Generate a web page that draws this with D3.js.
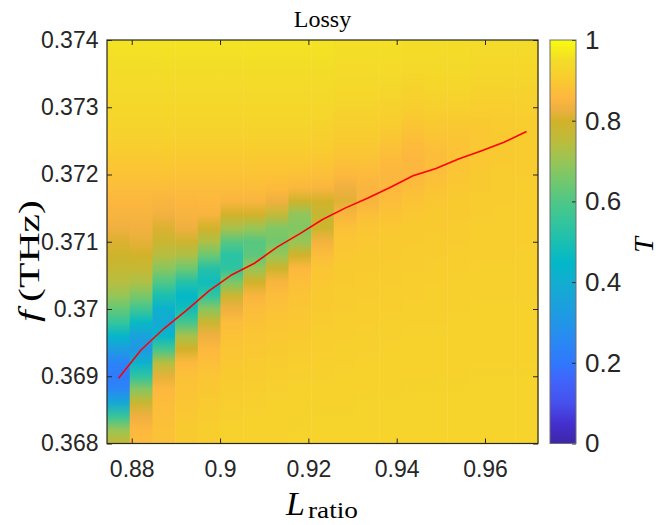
<!DOCTYPE html>
<html><head><meta charset="utf-8">
<script src="https://cdn.jsdelivr.net/npm/d3@7"></script>
<style>body{margin:0;background:#fff}</style>
</head><body><div id="chart"></div>
<script>
// ---------------- data ----------------
const Lratio = [0.8770, 0.8821, 0.8873, 0.8924, 0.8975, 0.9027, 0.9078, 0.9129, 0.9181, 0.9232,
                0.9283, 0.9335, 0.9386, 0.9437, 0.9489, 0.9540, 0.9591, 0.9643, 0.9694];
const fGrid = [0.3680, 0.3682, 0.3684, 0.3686, 0.3688, 0.3690, 0.3692, 0.3694, 0.3696, 0.3698,
               0.3700, 0.3702, 0.3704, 0.3706, 0.3708, 0.3710, 0.3712, 0.3714, 0.3716, 0.3718,
               0.3720, 0.3722, 0.3724, 0.3726, 0.3728, 0.3730, 0.3732, 0.3734, 0.3736, 0.3738, 0.3740];
// transmission T per column (bottom f=0.368 -> top f=0.374)
const T01 = [0.77,0.70,0.56,0.38,0.25,0.21,0.24,0.33,0.44,0.55,0.63,0.70,0.74,0.77,0.79,0.81,0.83,0.845,0.855,0.87,0.885,0.895,0.91,0.92,0.93,0.935,0.94,0.945,0.95,0.955,0.96];
const T02 = [0.87,0.86,0.83,0.78,0.68,0.54,0.42,0.31,0.35,0.46,0.57,0.66,0.73,0.77,0.80,0.82,0.835,0.845,0.855,0.87,0.885,0.895,0.91,0.92,0.93,0.935,0.94,0.945,0.95,0.955,0.96];
const T03 = [0.88,0.88,0.875,0.87,0.86,0.82,0.74,0.58,0.44,0.38,0.42,0.50,0.60,0.68,0.74,0.78,0.81,0.835,0.85,0.87,0.885,0.895,0.91,0.92,0.93,0.935,0.94,0.945,0.95,0.955,0.96];
const T04 = [0.90,0.90,0.895,0.89,0.885,0.88,0.86,0.80,0.72,0.58,0.48,0.45,0.52,0.64,0.73,0.79,0.83,0.845,0.855,0.87,0.885,0.895,0.91,0.92,0.93,0.935,0.94,0.945,0.95,0.955,0.96];
const T05 = [0.91,0.91,0.905,0.90,0.895,0.89,0.875,0.86,0.83,0.78,0.68,0.54,0.48,0.52,0.64,0.73,0.80,0.845,0.86,0.87,0.885,0.895,0.91,0.92,0.93,0.935,0.94,0.945,0.95,0.955,0.96];
const T06 = [0.92,0.92,0.915,0.91,0.905,0.90,0.895,0.89,0.88,0.87,0.83,0.78,0.66,0.54,0.53,0.61,0.72,0.80,0.85,0.87,0.885,0.895,0.91,0.92,0.93,0.935,0.94,0.945,0.95,0.955,0.96];
const T07 = [0.92,0.92,0.92,0.915,0.91,0.905,0.90,0.895,0.89,0.88,0.87,0.85,0.80,0.70,0.62,0.61,0.70,0.80,0.85,0.87,0.885,0.895,0.91,0.92,0.93,0.935,0.94,0.945,0.95,0.955,0.96];
const T08 = [0.92,0.92,0.92,0.92,0.915,0.91,0.905,0.90,0.895,0.89,0.88,0.87,0.85,0.79,0.70,0.65,0.67,0.76,0.83,0.865,0.885,0.895,0.91,0.92,0.93,0.935,0.94,0.945,0.95,0.955,0.96];
const T09 = [0.925,0.925,0.92,0.92,0.92,0.915,0.91,0.905,0.90,0.895,0.89,0.885,0.875,0.86,0.80,0.70,0.67,0.69,0.79,0.855,0.88,0.895,0.91,0.92,0.93,0.935,0.94,0.945,0.95,0.955,0.96];
const T10 = [0.925,0.925,0.925,0.92,0.92,0.915,0.915,0.91,0.91,0.905,0.90,0.90,0.895,0.89,0.87,0.84,0.79,0.77,0.80,0.85,0.875,0.89,0.905,0.915,0.925,0.935,0.94,0.945,0.95,0.955,0.96];
const T11 = [0.925,0.925,0.925,0.92,0.92,0.92,0.915,0.915,0.91,0.91,0.905,0.905,0.90,0.90,0.895,0.89,0.88,0.85,0.815,0.83,0.86,0.88,0.895,0.905,0.915,0.925,0.935,0.94,0.945,0.95,0.955];
const T12 = [0.925,0.925,0.925,0.925,0.92,0.92,0.92,0.915,0.915,0.91,0.91,0.905,0.905,0.90,0.90,0.895,0.89,0.875,0.845,0.85,0.865,0.88,0.895,0.905,0.915,0.925,0.935,0.94,0.945,0.95,0.955];
const T13 = [0.925,0.925,0.925,0.925,0.92,0.92,0.92,0.92,0.915,0.915,0.91,0.91,0.905,0.905,0.90,0.90,0.895,0.885,0.87,0.86,0.855,0.865,0.88,0.895,0.91,0.92,0.93,0.94,0.945,0.95,0.955];
const T14 = [0.925,0.925,0.925,0.925,0.925,0.92,0.92,0.92,0.92,0.915,0.915,0.91,0.91,0.905,0.905,0.90,0.90,0.895,0.885,0.87,0.855,0.855,0.865,0.88,0.895,0.91,0.92,0.93,0.94,0.945,0.95];
const T15 = [0.925,0.925,0.925,0.925,0.925,0.92,0.92,0.92,0.92,0.915,0.915,0.915,0.91,0.91,0.905,0.905,0.90,0.90,0.895,0.885,0.875,0.87,0.875,0.89,0.90,0.915,0.925,0.935,0.94,0.945,0.95];
const T16 = [0.925,0.925,0.925,0.925,0.925,0.92,0.92,0.92,0.92,0.92,0.915,0.915,0.915,0.91,0.91,0.905,0.905,0.90,0.90,0.895,0.89,0.885,0.885,0.89,0.90,0.915,0.925,0.935,0.94,0.945,0.95];
const T17 = [0.925,0.925,0.925,0.925,0.925,0.925,0.92,0.92,0.92,0.92,0.92,0.915,0.915,0.915,0.91,0.91,0.91,0.905,0.905,0.90,0.90,0.895,0.895,0.895,0.90,0.91,0.92,0.93,0.935,0.94,0.945];
const T18 = [0.925,0.925,0.925,0.925,0.925,0.925,0.92,0.92,0.92,0.92,0.92,0.915,0.915,0.915,0.91,0.91,0.91,0.91,0.905,0.905,0.905,0.90,0.90,0.90,0.905,0.91,0.92,0.93,0.935,0.94,0.945];
const T19 = [0.925,0.925,0.925,0.925,0.925,0.925,0.92,0.92,0.92,0.92,0.92,0.915,0.915,0.915,0.915,0.91,0.91,0.91,0.91,0.91,0.905,0.905,0.905,0.905,0.91,0.915,0.92,0.93,0.935,0.94,0.945];
const transmission = [T01,T02,T03,T04,T05,T06,T07,T08,T09,T10,T11,T12,T13,T14,T15,T16,T17,T18,T19];
// resonance frequency (red line), THz, one per column
const resonanceF = [0.36897, 0.36939, 0.36971, 0.36998, 0.37027, 0.37051, 0.37068, 0.37092, 0.37112, 0.37133,
                    0.37150, 0.37165, 0.37181, 0.37198, 0.37209, 0.37223, 0.37235, 0.37248, 0.37264];
// axes
const xDomain = [0.8744, 0.9720];
const yDomain = [0.368, 0.374];
const xTicks = [0.88, 0.90, 0.92, 0.94, 0.96];
const xTickLabels = ["0.88", "0.9", "0.92", "0.94", "0.96"];
const yTicks = [0.368, 0.369, 0.370, 0.371, 0.372, 0.373, 0.374];
const yTickLabels = ["0.368", "0.369", "0.37", "0.371", "0.372", "0.373", "0.374"];
const cTicks = [0, 0.2, 0.4, 0.6, 0.8, 1];
const cTickLabels = ["0", "0.2", "0.4", "0.6", "0.8", "1"];
// parula-like colormap
const parulaStops = [0.00,0.05,0.10,0.15,0.20,0.25,0.30,0.35,0.40,0.45,0.50,0.55,0.60,0.65,0.70,0.75,0.80,0.83,0.86,0.90,0.95,1.00];
const parulaColors = ["#3e26a8","#4430cf","#4650ed","#4162fa","#3078fd","#2a87f5","#2196e8","#1aa2db","#12add0","#03b8c8",
                      "#1bbfb0","#34c59c","#4fc786","#72c86d","#98c556","#bdbc3b","#d2b22a","#f0b040","#fdb83e","#f9ca30","#f3dd28","#f9fb0e"];

// ---------------- layout ----------------
const W = 664, H = 525;
const P = {l: 107, r: 538, t: 40, b: 443.5};
const CB = {l: 550, r: 576};
const ink = "#262626";

const svg = d3.select("#chart").append("svg").attr("width", W).attr("height", H)
  .style("font-family", "'Liberation Sans', Arial, sans-serif");
svg.append("rect").attr("width", W).attr("height", H).attr("fill", "#fff");

const x = d3.scaleLinear().domain(xDomain).range([P.l, P.r]);
const y = d3.scaleLinear().domain(yDomain).range([P.b, P.t]);
const cmap = d3.scaleLinear().domain(parulaStops).range(parulaColors).interpolate(d3.interpolateRgb).clamp(true);

const defs = svg.append("defs");
// column edges
const edges = [xDomain[0]];
for (let i = 0; i < Lratio.length - 1; i++) edges.push((Lratio[i] + Lratio[i + 1]) / 2);
edges.push(xDomain[1]);

const yTop = y(yDomain[1]), yBot = y(yDomain[0]);
transmission.forEach((col, i) => {
  const g = defs.append("linearGradient").attr("id", "colgrad" + i)
    .attr("x1", 0).attr("x2", 0).attr("y1", 0).attr("y2", 1);
  for (let k = col.length - 1; k >= 0; k--) {
    g.append("stop").attr("offset", ((y(fGrid[k]) - yTop) / (yBot - yTop)).toFixed(5))
      .attr("stop-color", cmap(col[k]));
  }
});

const plot = svg.append("g");
plot.selectAll("rect.cell").data(transmission).join("rect").attr("class", "cell")
  .attr("x", (d, i) => x(edges[i]))
  .attr("width", (d, i) => x(edges[i + 1]) - x(edges[i]) + 0.5)
  .attr("y", yTop).attr("height", yBot - yTop)
  .attr("fill", (d, i) => `url(#colgrad${i})`);

// red resonance line
const line = d3.line().x((d, i) => x(Lratio[i])).y(d => y(d));
plot.append("path").datum(resonanceF).attr("d", line)
  .attr("fill", "none").attr("stroke", "#ff0000").attr("stroke-width", 1.6);

// axes
function styleAxis(g) {
  g.select(".domain").remove();
  g.selectAll(".tick line").attr("stroke", ink).attr("stroke-width", 1);
  g.selectAll(".tick text").attr("fill", ink);
}
svg.append("g").attr("transform", `translate(0,${P.b})`)
  .call(d3.axisBottom(x).tickValues(xTicks).tickSize(-5).tickPadding(17)
    .tickFormat((d, i) => xTickLabels[i]))
  .call(styleAxis).call(g => g.selectAll("text").attr("font-size", 23));
svg.append("g").attr("transform", `translate(0,${P.t})`)
  .call(d3.axisTop(x).tickValues(xTicks).tickSize(-5).tickFormat(""))
  .call(styleAxis);
svg.append("g").attr("transform", `translate(${P.l},0)`)
  .call(d3.axisLeft(y).tickValues(yTicks).tickSize(-5).tickPadding(8.5)
    .tickFormat((d, i) => yTickLabels[i]))
  .call(styleAxis).call(g => g.selectAll("text").attr("font-size", 23));
svg.append("g").attr("transform", `translate(${P.r},0)`)
  .call(d3.axisRight(y).tickValues(yTicks).tickSize(-5).tickFormat(""))
  .call(styleAxis);
svg.append("rect").attr("x", P.l).attr("y", P.t).attr("width", P.r - P.l).attr("height", P.b - P.t)
  .attr("fill", "none").attr("stroke", ink).attr("stroke-width", 1.2);

// colorbar
const c = d3.scaleLinear().domain([0, 1]).range([P.b, P.t]);
const cg = defs.append("linearGradient").attr("id", "cbar")
  .attr("x1", 0).attr("x2", 0).attr("y1", 1).attr("y2", 0);
parulaStops.forEach((s, k) => cg.append("stop").attr("offset", s).attr("stop-color", parulaColors[k]));
svg.append("rect").attr("x", CB.l).attr("y", c(1)).attr("width", CB.r - CB.l).attr("height", c(0) - c(1))
  .attr("fill", "url(#cbar)");
svg.append("g").attr("transform", `translate(${CB.r},0)`)
  .call(d3.axisRight(c).tickValues(cTicks).tickSize(-4).tickPadding(9)
    .tickFormat((d, i) => cTickLabels[i]))
  .call(styleAxis).call(g => g.selectAll("text").attr("font-size", 26));
svg.append("rect").attr("x", CB.l).attr("y", c(1)).attr("width", CB.r - CB.l).attr("height", c(0) - c(1))
  .attr("fill", "none").attr("stroke", "#6e6e6e").attr("stroke-width", 1);

// texts
const serif = "'Liberation Serif', 'Times New Roman', serif";
svg.append("text").attr("x", (P.l + P.r) / 2).attr("y", 27).attr("text-anchor", "middle")
  .attr("font-family", serif).attr("font-size", 24).attr("fill", "#000").text("Lossy");

svg.append("text").attr("x", 286).attr("y", 515)
  .attr("font-family", serif).attr("font-style", "italic").attr("font-size", 34).attr("fill", "#000").text("L");
svg.append("text").attr("x", 308).attr("y", 518)
  .attr("font-family", serif).attr("font-size", 24).attr("fill", "#000")
  .attr("textLength", 50).attr("lengthAdjust", "spacingAndGlyphs").text("ratio");

const yl = svg.append("text").attr("transform", "translate(39,261) rotate(-90)")
  .attr("text-anchor", "middle").attr("font-family", serif).attr("fill", "#000").attr("font-size", 30)
  .attr("textLength", 122).attr("lengthAdjust", "spacingAndGlyphs");
yl.append("tspan").attr("font-style", "italic").text("f");
yl.append("tspan").text("\u2009(THz)");

svg.append("text").attr("transform", "translate(653,245) rotate(-90)")
  .attr("text-anchor", "middle").attr("font-family", serif).attr("font-style", "italic")
  .attr("font-size", 28).attr("fill", "#000").text("T");
</script></body></html>
